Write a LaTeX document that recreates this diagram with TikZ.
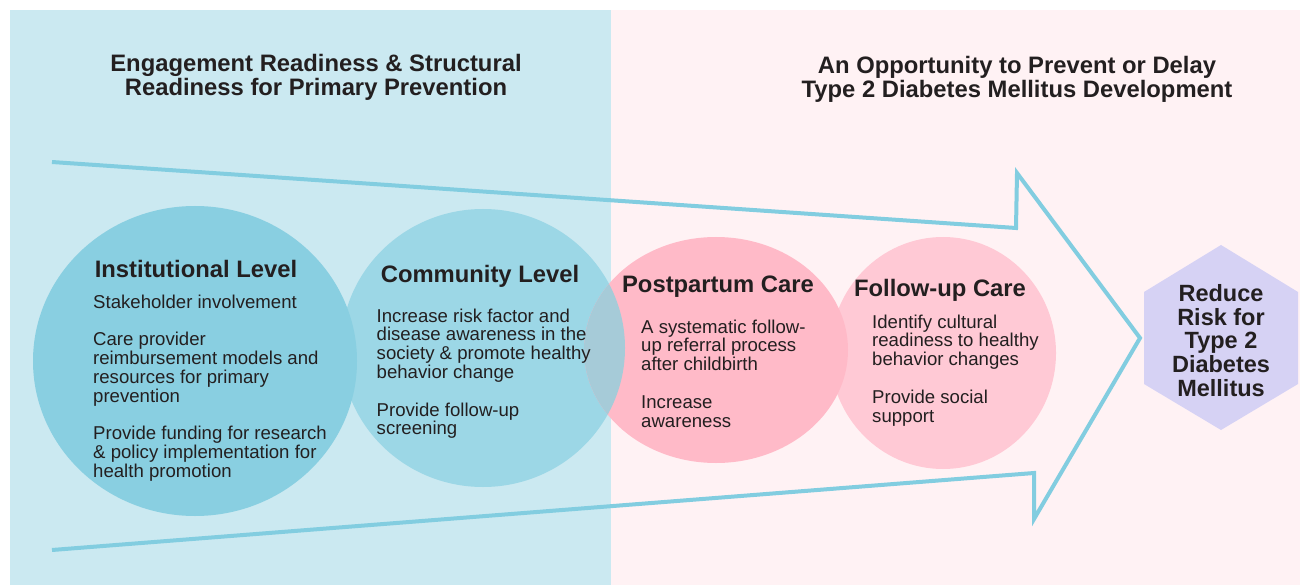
\documentclass[tikz,border=0pt]{standalone}
\usepackage{fontspec}
\setmainfont{Liberation Sans}
\definecolor{panelL}{HTML}{CBE9F1}
\definecolor{panelR}{HTML}{FFF2F4}
\definecolor{arrowc}{HTML}{82CDE0}
\definecolor{instc}{HTML}{89CFE1}
\definecolor{commc}{HTML}{9CD7E6}
\definecolor{overlapc}{HTML}{A6CBD8}
\definecolor{postc}{HTML}{FFBAC8}
\definecolor{follc}{HTML}{FFC9D5}
\definecolor{goalc}{HTML}{D6D2F4}
\definecolor{ink}{HTML}{231F20}

\begin{document}
\begin{tikzpicture}[x=1pt,y=-1pt,
 head/.style={font=\fontsize{23.8}{24}\selectfont\bfseries, text=ink, inner sep=0, align=center},
 items/.style={font=\fontsize{18.6}{18.8}\selectfont, text=ink, inner sep=0, align=left, anchor=north west}]
\useasboundingbox (0,0) rectangle (1300,585);
\fill[panelL] (10,10) rectangle (611,585);
\fill[panelR] (611,10) rectangle (1300,585);
\draw[arrowc, line width=4, line join=miter] (52,162) -- (1016,228) -- (1017,173) -- (1140,338) -- (1034,519) -- (1034,473) -- (52,550);
\foreach \cx/\cy/\rx/\ry/\c in {483/348/142/139/commc, 195/361/162/155/instc, 943/353/113/116/follc, 716/350/132/113/postc}
 \fill[\c] (\cx,\cy) ellipse [x radius=\rx, y radius=\ry];
\begin{scope}
\clip (716,350) ellipse [x radius=132, y radius=113];
\fill[overlapc] (483,348) ellipse [x radius=142, y radius=139];
\end{scope}
\fill[goalc] (1221,245) -- (1298,292) -- (1298,384) -- (1221,430) -- (1144,384) -- (1144,292) -- cycle;

\node[head, anchor=north] (engage) at (316,54) {Engagement Readiness \& Structural\\Readiness for Primary Prevention};
\node[head, anchor=north] (prevent) at (1017,56) {An Opportunity to Prevent or Delay\\Type 2 Diabetes Mellitus Development};

\node[head, anchor=base] (inst) at (196,277) {Institutional Level};
\node[head, anchor=base] (comm) at (480,283) {Community Level};
\node[head, anchor=base] (post) at (718,292) {Postpartum Care};
\node[head, anchor=base] (foll) at (940,296) {Follow-up Care};

\node[items] (institems) at (93,294.5) {Stakeholder involvement\\[18.8pt]Care provider\\reimbursement models and\\resources for primary\\prevention\\[18.8pt]Provide funding for research\\\& policy implementation for\\health promotion};
\node[items] (commitems) at (376.5,308.5) {Increase risk factor and\\disease awareness in the\\society \& promote healthy\\behavior change\\[18.8pt]Provide follow-up\\screening};
\node[items] (postitems) at (641,319.5) {A systematic follow-\\up referral process\\after childbirth\\[18.8pt]Increase\\awareness};
\node[items] (follitems) at (872,314.5) {Identify cultural\\readiness to healthy\\behavior changes\\[18.8pt]Provide social\\support};

\node[head, anchor=north, font=\fontsize{23.5}{23.8}\selectfont\bfseries] (goal) at (1221,284) {Reduce\\Risk for\\Type 2\\Diabetes\\Mellitus};
\end{tikzpicture}
\end{document}
